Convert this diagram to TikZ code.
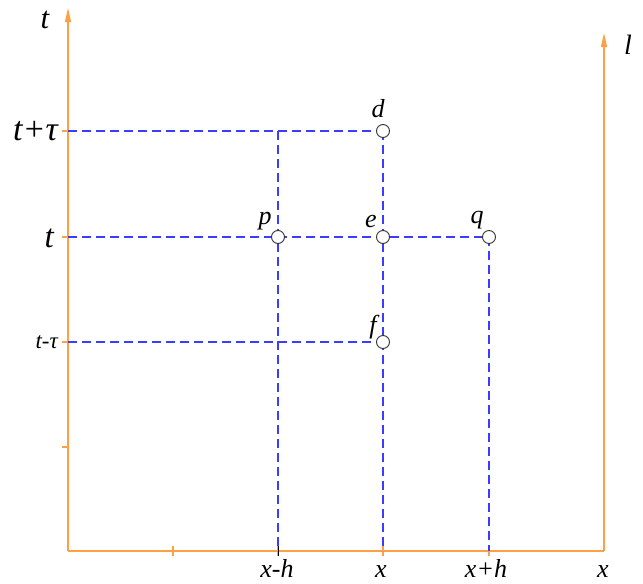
\documentclass[tikz,border=0pt]{standalone}
\usepackage{fontspec}
\setmainfont{Liberation Serif}
\usetikzlibrary{arrows.meta}
\definecolor{axor}{RGB}{255,160,70}
\definecolor{dblue}{RGB}{60,60,255}
\begin{document}
\begin{tikzpicture}[x=1pt,y=-1pt,
  axis/.style={color=axor,line width=1.2pt},
  arr/.style={-{Triangle[length=14pt,width=6pt]}},
  grid/.style={color=dblue,line width=1.3pt,dash pattern=on 9pt off 5pt},
  pt/.style={circle,draw=black!80,fill=white,line width=0.9pt,inner sep=0pt,minimum size=13pt},
  lab/.style={font=\itshape\fontsize{26}{28}\selectfont,inner sep=0pt,text=black},
  tick/.style={color=axor,line width=1.1pt}]
\useasboundingbox (0,0) rectangle (643,584);
% axes
\coordinate (O) at (68,551);
\coordinate (Ttop) at (68,8);
\coordinate (R) at (604,551);
\coordinate (Rtop) at (604,33);
\draw[axis,arr] (O) -- (Ttop);
\draw[axis] (O) -- (R);
\draw[axis,arr] (R) -- (Rtop);
% ticks
\foreach \y in {131,237,342,447} \draw[tick] (62,\y) -- (68,\y);
\foreach \x in {173,278,383,489} \draw[tick] (\x,546) -- (\x,556);
\coordinate (L1) at (68,131);
\coordinate (L2) at (68,237);
\coordinate (L3) at (68,342);
\coordinate (C1) at (278,131);
\coordinate (B1) at (278,551);
\coordinate (B2) at (383,551);
\coordinate (B3) at (489,551);
\coordinate (Pd) at (383,131);
\coordinate (Pp) at (278,237);
\coordinate (Pe) at (383,237);
\coordinate (Pq) at (489,237);
\coordinate (Pf) at (383,342);
% dashed grid
\draw[grid] (L1) -- (Pd);
\draw[grid] (C1) -- (B1);
\draw[grid] (Pd) -- (B2);
\draw[grid] (L2) -- (Pq);
\draw[grid] (Pq) -- (B3);
\draw[grid] (L3) -- (Pf);
\draw[black,line width=1pt] (278,546) -- (278,556);
% points
\node[pt] (d) at (Pd) {};
\node[pt] (p) at (Pp) {};
\node[pt] (e) at (Pe) {};
\node[pt] (q) at (Pq) {};
\node[pt] (f) at (Pf) {};
% labels
\node[lab,font=\itshape\fontsize{31}{33}\selectfont] (tl) at (45,20) {t};
\node[lab,font=\itshape\fontsize{34}{36}\selectfont,anchor=east] (ltt) at (58,131) {t+τ};
\node[lab,font=\itshape\fontsize{33}{35}\selectfont,anchor=east] (lt) at (54,238) {t};
\node[lab,font=\itshape\fontsize{23}{25}\selectfont,anchor=east] (ltm) at (58,342) {t-τ};
\node[lab,font=\itshape\fontsize{28}{30}\selectfont] (ll) at (628,45) {l};
\node[lab] (dl) at (378,109) {d};
\node[lab] (pl) at (265,221) {p};
\node[lab] (el) at (371,221) {e};
\node[lab] (ql) at (477,220) {q};
\node[lab] (fl) at (373,327) {f};
\node[lab,anchor=base] (xh1) at (277,577) {x-h};
\node[lab,anchor=base] (xx) at (381,577) {x};
\node[lab,anchor=base] (xh2) at (486,577) {x+h};
\node[lab,anchor=base] (xa) at (603,577) {x};
\end{tikzpicture}
\end{document}
